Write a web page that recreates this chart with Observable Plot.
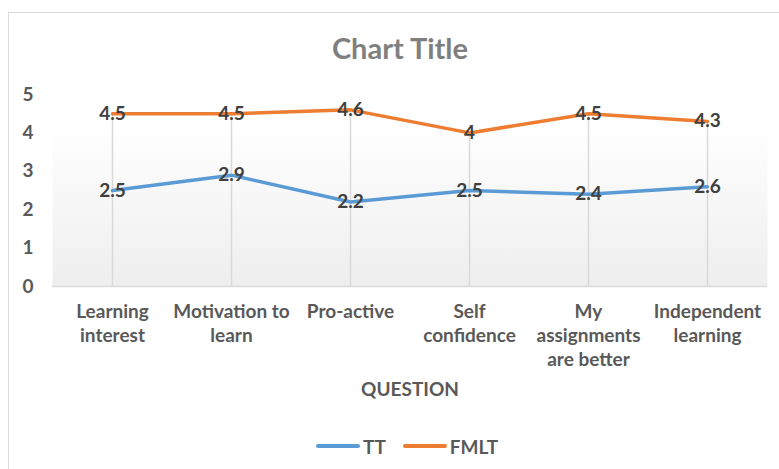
<!DOCTYPE html>
<html>
<head>
<meta charset="utf-8">
<script src="https://cdn.jsdelivr.net/npm/d3@7"></script>
<script src="https://cdn.jsdelivr.net/npm/@observablehq/plot@0.6"></script>
<style>
  html, body { margin: 0; padding: 0; background: #fff; overflow: hidden; }
  #wrap { position: relative; width: 779px; height: 469px; overflow: hidden;
          font-family: Lato, "Open Sans", sans-serif; font-weight: bold; }
  #border { position: absolute; left: 8px; top: 12px; width: 820px; height: 520px;
            border: 1px solid #d9d9d9; box-sizing: border-box; }
  #title { position: absolute; left: 0; top: 30px; width: 800px; text-align: center;
           font-size: 29px; line-height: 36px; color: #7f7f7f; }
  #chart { position: absolute; left: 0; top: 0; }
  #legend { position: absolute; left: 316px; top: 435px; height: 22px; display: flex;
            align-items: center; font-size: 19px; color: #595959; }
  .sw { display: inline-block; width: 44px; height: 3.5px; border-radius: 2px; margin-right: 3px; }
  .item { display: flex; align-items: center; margin-right: 17px; }
</style>
</head>
<body>
<div id="wrap">
  <div id="border"></div>
  <div id="title">Chart Title</div>
  <div id="chart"></div>
  <div id="legend"></div>
</div>
<script>
const categories = ["Learning interest", "Motivation to learn", "Pro-active", "Self confidence", "My assignments are better", "Independent learning"];
const tickLabels = ["Learning\ninterest", "Motivation to\nlearn", "Pro-active", "Self\nconfidence", "My\nassignments\nare better", "Independent\nlearning"];
const seriesNames = ["TT", "FMLT"];
const ttValues = [2.5, 2.9, 2.2, 2.5, 2.4, 2.6];
const fmltValues = [4.5, 4.5, 4.6, 4, 4.5, 4.3];
const seriesColors = ["#5b9bd5", "#ed7d31"];
const yTicks = [0, 1, 2, 3, 4, 5];

const rows = [];
categories.forEach((q, i) => {
  rows.push({q, series: "TT", value: ttValues[i]});
  rows.push({q, series: "FMLT", value: fmltValues[i]});
});
const drops = categories.map((q, i) => ({q, top: Math.max(ttValues[i], fmltValues[i])}));

const svg = Plot.plot({
  width: 779,
  height: 410,
  marginTop: 94,
  marginBottom: 124,
  marginLeft: 52,
  marginRight: 12,
  style: {fontFamily: "Lato, 'Open Sans', sans-serif", fontSize: "19px", fontWeight: "bold", color: "#595959", background: "transparent"},
  x: {type: "point", domain: categories, padding: 0.5},
  y: {domain: [0, 5]},
  color: {domain: seriesNames, range: seriesColors},
  marks: [
    Plot.frame({fill: "url(#bgGrad)", stroke: null}),
    Plot.ruleX(drops, {x: "q", y1: 0, y2: "top", stroke: "#d9d9d9", strokeWidth: 1.5}),
    Plot.ruleY([0], {stroke: "#d9d9d9", strokeWidth: 1.5}),
    Plot.axisY({ticks: yTicks, tickFormat: d => String(d), tickSize: 0, tickPadding: 19, label: null}),
    Plot.axisX({tickSize: 0, tickPadding: 15, lineHeight: 1.25,
      tickFormat: d => tickLabels[categories.indexOf(d)],
      label: "QUESTION", labelAnchor: "center", labelOffset: 109}),
    Plot.line(rows, {x: "q", y: "value", stroke: "series", z: "series", strokeWidth: 3.5,
      strokeLinecap: "round", strokeLinejoin: "round"}),
    Plot.text(rows, {x: "q", y: "value", text: d => String(d.value), fill: "#404040",
      fontSize: 19, fontWeight: "bold"})
  ]
});

const defs = d3.select(svg).insert("defs", ":first-child");
const grad = defs.append("linearGradient").attr("id", "bgGrad")
  .attr("x1", 0).attr("x2", 0).attr("y1", 0).attr("y2", 1);
grad.append("stop").attr("offset", "15%").attr("stop-color", "#ffffff");
grad.append("stop").attr("offset", "100%").attr("stop-color", "#eeeeee");

document.getElementById("chart").appendChild(svg);

const legend = d3.select("#legend");
seriesNames.forEach((name, i) => {
  const item = legend.append("div").attr("class", "item");
  item.append("span").attr("class", "sw").style("background", seriesColors[i]);
  item.append("span").text(name);
});
</script>
</body>
</html>
